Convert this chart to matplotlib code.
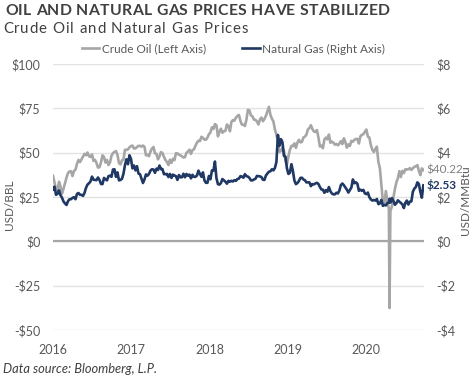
import matplotlib
matplotlib.use("Agg")
import matplotlib.pyplot as plt
import numpy as np
import pandas as pd

# ---------------- data (weekly, Fridays; plus the 2020-04-20 print) ----------------
oil_2016 = [37.0, 33.2, 29.4, 28.5, 33.6,
            30.9, 27.0, 29.6, 32.8,
            35.9, 38.5, 39.4, 39.5,
            36.8, 39.7, 40.4, 43.7, 45.9,
            44.7, 46.2, 47.8, 49.3,
            48.6, 50.1, 47.98, 47.6,
            48.99, 45.4, 45.95, 44.2, 41.6,
            41.8, 44.5, 48.5, 47.6,
            44.4, 45.9, 43.0, 44.5, 48.2,
            49.8, 50.4, 50.9, 48.7,
            44.1, 43.4, 45.7, 46.1,
            51.7, 51.5, 51.9, 53.0, 53.7]
oil_2017 = [53.99, 52.37, 52.42, 53.17,
            53.83, 53.86, 53.40, 53.99,
            53.33, 48.49, 48.78, 47.97, 50.60,
            52.24, 53.18, 49.62, 49.33,
            46.22, 47.84, 50.33, 49.80,
            47.66, 45.83, 44.74, 43.01, 46.04,
            44.23, 46.54, 45.77, 49.71,
            49.58, 48.82, 48.51, 47.87,
            47.29, 47.48, 49.89, 50.66, 51.67,
            49.29, 51.45, 51.84, 53.90,
            55.64, 56.74, 56.55, 58.95,
            58.36, 57.36, 57.30, 58.47, 60.42]
oil_2018 = [61.44, 64.30, 63.37, 66.14,
            65.45, 59.20, 61.68, 63.55,
            61.25, 62.04, 62.34, 65.88, 64.94,
            62.06, 67.39, 68.38, 68.10,
            69.72, 70.70, 71.28, 67.88,
            65.81, 65.74, 65.06, 68.58, 74.15,
            73.80, 71.01, 70.46, 68.69,
            68.49, 67.63, 65.91, 68.72, 69.80,
            67.75, 68.99, 70.78, 73.25,
            75.80, 71.34, 69.12, 67.59,
            63.14, 60.19, 56.46, 50.42, 50.93,
            52.61, 51.20, 45.59, 43.30]
oil_2019 = [47.96, 51.59, 53.80, 53.69,
            55.26, 52.72, 55.59, 57.26,
            55.80, 56.07, 58.52, 59.04, 60.14,
            63.08, 63.89, 65.50, 63.30,
            61.94, 61.66, 62.76, 58.63, 53.50,
            54.00, 52.51, 57.43, 58.47,
            57.51, 60.21, 55.63, 56.20,
            55.66, 54.50, 54.87, 54.17, 55.10,
            56.52, 54.85, 58.09, 55.91,
            52.81, 54.70, 53.78, 56.66,
            56.20, 57.24, 57.72, 57.77, 55.17,
            59.20, 60.07, 60.44, 61.72]
oil_2020 = [63.05, 59.04, 58.54, 54.19, 51.56,
            50.32, 52.05, 53.38, 44.76,
            41.28, 31.73, 22.43, 21.51,
            28.34, 22.76, 18.27, -37.63, 16.94,
            19.78, 24.74, 29.43, 33.25, 35.49,
            39.55, 36.26, 39.75, 38.49,
            40.65, 40.55, 40.59, 41.29, 40.27,
            41.22, 42.01, 42.34, 42.97,
            39.77, 37.33, 41.11, 40.22]

gas_2016 = [2.34, 2.47, 2.10, 2.14, 2.30,
            2.08, 1.97, 1.80, 1.71,
            1.64, 1.81, 1.90, 1.90,
            1.96, 1.99, 1.90, 2.14, 2.18,
            2.10, 2.10, 2.05, 2.18,
            2.41, 2.56, 2.62, 2.70,
            2.92, 2.78, 2.77, 2.76, 2.88,
            2.77, 2.59, 2.58, 2.86,
            2.80, 2.75, 2.94, 2.96, 2.91,
            3.24, 3.25, 2.91, 3.11,
            2.75, 2.77, 2.82, 3.05,
            3.44, 3.70, 3.48, 3.88, 3.72]
gas_2017 = [3.29, 3.42, 3.20, 3.39,
            3.06, 3.03, 2.83, 2.63,
            2.79, 3.02, 2.96, 3.04, 3.19,
            3.25, 3.24, 3.09, 3.28,
            3.22, 3.42, 3.26, 3.26,
            3.03, 3.03, 3.04, 2.90, 3.04,
            2.86, 3.01, 2.97, 2.94,
            2.77, 2.99, 2.89, 2.89,
            3.05, 2.89, 3.04, 2.96, 3.01,
            2.84, 3.00, 2.91, 2.91,
            2.97, 3.19, 3.04, 2.91,
            3.11, 2.75, 2.64, 2.64, 2.95]
gas_2018 = [2.80, 3.20, 3.19, 3.60,
            2.85, 2.58, 2.56, 2.63,
            2.81, 2.75, 2.69, 2.60, 2.73,
            2.69, 2.73, 2.70, 2.76,
            2.73, 2.81, 2.83, 2.94,
            2.92, 2.87, 3.03, 2.94, 2.92,
            2.86, 2.75, 2.75, 2.79,
            2.82, 2.95, 2.94, 2.93, 2.90,
            2.78, 2.77, 2.97, 3.06,
            3.14, 3.16, 3.25, 3.20,
            3.31, 3.58, 4.80, 4.31, 4.61,
            4.48, 3.86, 3.82, 3.30]
gas_2019 = [3.04, 3.09, 3.48, 3.18,
            2.74, 2.58, 2.63, 2.72,
            2.86, 2.87, 2.79, 2.76, 2.66,
            2.66, 2.66, 2.49, 2.58,
            2.57, 2.61, 2.64, 2.59, 2.45,
            2.34, 2.33, 2.19, 2.31,
            2.24, 2.45, 2.26, 2.16,
            2.12, 2.12, 2.19, 2.16, 2.29,
            2.54, 2.61, 2.53, 2.43,
            2.33, 2.20, 2.32, 2.43,
            2.79, 2.62, 2.66, 2.60, 2.28,
            2.33, 2.28, 2.32, 2.16]
gas_2020 = [2.13, 2.20, 1.99, 1.89, 1.84,
            1.86, 1.84, 1.91, 1.68,
            1.71, 1.87, 1.60, 1.64,
            1.62, 1.73, 1.75, 1.92, 1.75,
            1.95, 1.83, 1.65, 1.72, 1.85,
            1.79, 1.73, 1.67, 1.50,
            1.74, 1.84, 1.66, 1.79, 1.80,
            2.24, 2.38, 2.45, 2.66,
            2.59, 2.23, 1.97, 2.53]

oil = oil_2016 + oil_2017 + oil_2018 + oil_2019 + oil_2020
gas = gas_2016 + gas_2017 + gas_2018 + gas_2019 + gas_2020

weekly = pd.date_range("2016-01-01", "2020-09-25", freq="W-FRI")
dates = weekly.append(pd.DatetimeIndex(["2020-04-20"])).sort_values()

oil_label = "Crude Oil (Left Axis)"
gas_label = "Natural Gas (Right Axis)"
left_ticks = [-50, -25, 0, 25, 50, 75, 100]
right_ticks = [-4, -2, 0, 2, 4, 6, 8]
year_ticks = ["2016", "2017", "2018", "2019", "2020"]
title = "OIL AND NATURAL GAS PRICES HAVE STABILIZED"
subtitle = "Crude Oil and Natural Gas Prices"
source = "Data source: Bloomberg, L.P."

# ---------------- style ----------------
FONT = ["Lato", "DejaVu Sans"]
plt.rcParams["font.family"] = FONT
OIL_C = "#A6A6A6"
GAS_C = "#1F3864"
TXT = "#595959"

W, H = 475, 379
fig = plt.figure(figsize=(W / 100, H / 100), dpi=100)
renderer = fig.canvas.get_renderer()
ax = fig.add_axes([53 / W, 1 - 330 / H, (424 - 53) / W, (330 - 64) / H])
ax2 = ax.twinx()

ax.plot(dates, oil, color=OIL_C, lw=1.9, label=oil_label, solid_joinstyle="round")
ax2.plot(dates, gas, color=GAS_C, lw=1.9, label=gas_label, solid_joinstyle="round")

ax.set_ylim(-50, 100)
ax2.set_ylim(-4, 8)
ax.set_yticks(left_ticks)
ax.set_yticklabels([("-$%d" % -v) if v < 0 else ("$%d" % v) for v in left_ticks])
ax2.set_yticks(right_ticks)
ax2.set_yticklabels([("-$%d" % -v) if v < 0 else ("$%d" % v) for v in right_ticks])

ax.set_xlim(pd.Timestamp("2016-01-01"), pd.Timestamp("2020-09-28"))
ax.set_xticks([pd.Timestamp(y + "-01-01") for y in year_ticks])
ax.set_xticklabels(year_ticks)

for a in (ax, ax2):
    for s in a.spines.values():
        s.set_visible(False)
    a.tick_params(length=0, colors=TXT, labelsize=9)
ax.tick_params(axis="y", pad=9)
ax2.tick_params(axis="y", pad=9)
ax.tick_params(axis="x", pad=10)

ax.grid(axis="y", color="#E3E3E3", lw=1.0)
ax.axhline(0, color="#A6A6A6", lw=1.6, zorder=1)
ax.set_axisbelow(True)

fig.text(10 / W, 1 - 205 / H, "USD/BBL", rotation=90, ha="center", va="center",
         color=TXT, fontsize=8.5)
fig.text(466 / W, 1 - 200 / H, "USD/MMBtu", rotation=90, ha="center", va="center",
         color=TXT, fontsize=8.5)

# end labels
ax.annotate("$%.2f" % oil[-1], xy=(dates[-1], oil[-1]), xytext=(2, 0),
            textcoords="offset points", ha="left", va="center", color="#7F7F7F",
            fontsize=8.5)
ax2.annotate("$%.2f" % gas[-1], xy=(dates[-1], gas[-1]), xytext=(2, 0),
             textcoords="offset points", ha="left", va="center", color=GAS_C,
             fontsize=8.5, fontweight="bold")


def text_width(s, **kw):
    t = fig.text(0, 0, s + "|", **kw)
    w = t.get_window_extent(renderer).width
    t.remove()
    t = fig.text(0, 0, "|", **kw)
    w -= t.get_window_extent(renderer).width
    t.remove()
    return w


def spaced_text(x0, y0, s, x1, **kw):
    """Draw s with letter spacing so that it spans from pixel x0 to x1."""
    natural = text_width(s, **kw)
    last = text_width(s[-1], **kw)
    base_full = text_width(s[:-1], **kw) + last
    gap = (x1 - x0 - base_full) / (len(s) - 1)
    for i, ch in enumerate(s):
        xi = x0 + text_width(s[:i], **kw) + i * gap if i else x0
        fig.text(xi / W, 1 - y0 / H, ch, ha="left", va="baseline", **kw)


spaced_text(5, 15, title, 390, fontsize=11.3, fontweight="bold", color="#404040")
spaced_text(3, 33, subtitle, 248, fontsize=10.8, color="#404040")
fig.text(3 / W, 1 - 373 / H, source, ha="left", va="baseline",
         fontsize=9.3, style="italic", color="#404040")

h1, l1 = ax.get_legend_handles_labels()
h2, l2 = ax2.get_legend_handles_labels()
fig.legend(h1 + h2, l1 + l2, loc="center", bbox_to_anchor=(233.5 / W, 1 - 49 / H),
           ncol=2, frameon=False, fontsize=8.5, handlelength=1.5, handletextpad=0.2,
           columnspacing=3.1, labelcolor=TXT)

fig.savefig("out.png", dpi=100)
